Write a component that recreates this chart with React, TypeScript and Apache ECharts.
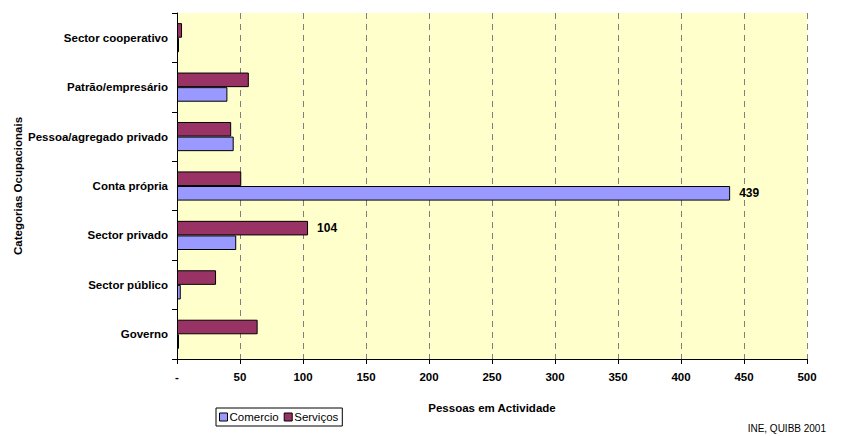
import React, { useEffect, useRef } from "react";
import * as echarts from "echarts";

const categories = [
  "Governo",
  "Sector público",
  "Sector privado",
  "Conta própria",
  "Pessoa/agregado privado",
  "Patrão/empresário",
  "Sector cooperativo",
];
const comercio = [1, 3, 47, 439, 45, 40, 1];
const servicos = [64, 31, 104, 51, 43, 57, 4];
const labelledComercio = [3];
const labelledServicos = [2];
const xTicks = [0, 50, 100, 150, 200, 250, 300, 350, 400, 450, 500];

const FONT = "Liberation Sans, Arial, sans-serif";

function withLabels(values: number[], labelled: number[]) {
  return values.map((v, i) =>
    labelled.includes(i)
      ? {
          value: v,
          label: {
            show: true,
            position: "right",
            distance: 9,
            fontFamily: FONT,
            fontWeight: "bold",
            fontSize: 12,
            color: "#000",
          },
        }
      : v
  );
}

export default function App() {
  const ref = useRef<HTMLDivElement>(null);
  useEffect(() => {
    if (!ref.current) return;
    document.body.style.margin = "0";
    const chart = echarts.init(ref.current, null, { renderer: "svg" });
    chart.setOption({
      animation: false,
      backgroundColor: "#fff",
      textStyle: { fontFamily: FONT },
      grid: {
        left: 177,
        right: 34,
        top: 13,
        bottom: 77,
        show: true,
        backgroundColor: "#FFFFCC",
        borderWidth: 0,
        z: 0,
      },
      legend: {
        data: ["Comercio", "Serviços"],
        left: 216,
        top: 408,
        orient: "horizontal",
        itemWidth: 8,
        itemHeight: 8,
        itemGap: 5,
        padding: [3, 4, 3, 3],
        borderColor: "#000",
        borderWidth: 1,
        borderRadius: 0,
        icon: "rect",
        textStyle: { fontFamily: FONT, fontSize: 11.5, color: "#000", padding: [0, 0, 0, -3] },
        itemStyle: { borderColor: "#000", borderWidth: 1 },
      },
      xAxis: {
        type: "value",
        min: 0,
        max: 500,
        interval: 50,
        axisLine: { show: true, lineStyle: { color: "#000", width: 1 } },
        axisTick: { show: true, length: 5, inside: false, lineStyle: { color: "#000" } },
        axisLabel: {
          margin: 12,
          fontFamily: FONT,
          fontWeight: "bold",
          fontSize: 11.5,
          color: "#000",
          formatter: (v: number) => (v === xTicks[0] ? "-" : String(v)),
        },
        splitLine: {
          show: true,
          lineStyle: { color: "#808080", type: [6, 5], width: 1 },
        },
      },
      yAxis: {
        type: "category",
        data: categories,
        z: 1,
        axisLine: { show: true, lineStyle: { color: "#000", width: 1 } },
        axisTick: { show: true, length: 5, inside: false, lineStyle: { color: "#000" } },
        axisLabel: {
          margin: 9,
          fontFamily: FONT,
          fontWeight: "bold",
          fontSize: 11.5,
          color: "#000",
        },
        splitLine: { show: false },
      },
      graphic: [
        {
          type: "text",
          x: 18,
          y: 186,
          rotation: Math.PI / 2,
          style: {
            text: "Categorias Ocupacionais",
            fontFamily: FONT,
            fontWeight: "bold",
            fontSize: 11.5,
            fill: "#000",
            align: "center",
            verticalAlign: "middle",
          },
        },
        {
          type: "text",
          x: 492,
          y: 408,
          style: {
            text: "Pessoas em Actividade",
            fontFamily: FONT,
            fontWeight: "bold",
            fontSize: 11.5,
            fill: "#000",
            align: "center",
            verticalAlign: "middle",
          },
        },
        {
          type: "text",
          x: 826,
          y: 428,
          style: {
            text: "INE, QUIBB 2001",
            fontFamily: FONT,
            fontSize: 10,
            fill: "#000",
            align: "right",
            verticalAlign: "middle",
          },
        },
      ],
      series: [
        {
          name: "Serviços",
          type: "bar",
          z: 3,
          data: withLabels(servicos, labelledServicos),
          barGap: "0%",
          barCategoryGap: "41%",
          barMinHeight: 2,
          itemStyle: { color: "#993366", borderColor: "#000", borderWidth: 1 },
        },
        {
          name: "Comercio",
          type: "bar",
          z: 3,
          data: withLabels(comercio, labelledComercio),
          barGap: "0%",
          barCategoryGap: "41%",
          barMinHeight: 2,
          itemStyle: { color: "#9999FF", borderColor: "#000", borderWidth: 1 },
        },
      ],
    });
    return () => chart.dispose();
  }, []);
  return <div ref={ref} style={{ width: 841, height: 436 }} />;
}
